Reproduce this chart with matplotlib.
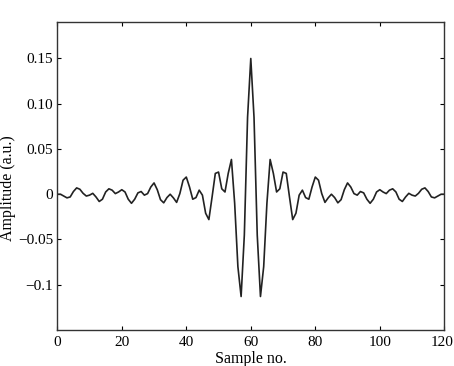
import matplotlib
matplotlib.use('Agg')
import matplotlib.pyplot as plt
import matplotlib.transforms as mtransforms
import numpy as np

# Амплитуда по номерам отсчётов
samples = np.arange(0, 121)
amp_left = [0.0, 0.0, -0.002, -0.004, -0.003, 0.003, 0.007, 0.0055, 0.001, -0.002,
            -0.001, 0.001, -0.003, -0.008, -0.0055, 0.0025, 0.006, 0.0045, 0.0007, 0.0025,
            0.005, 0.0025, -0.0055, -0.010, -0.0055, 0.0015, 0.003, -0.001, 0.0007, 0.008,
            0.0125, 0.005, -0.006, -0.0095, -0.0037, 0.0, -0.004, -0.009, 0.0007, 0.0155,
            0.019, 0.008, -0.0055, -0.0037, 0.0045, -0.001, -0.021, -0.028, -0.003, 0.023,
            0.0245, 0.006, 0.0025, 0.023, 0.0384, -0.010, -0.080, -0.113, -0.045, 0.085]
amp_center = [0.150]
amp_right = [0.085, -0.045, -0.113, -0.080, -0.010, 0.0384, 0.023, 0.0025, 0.006, 0.0245,
             0.023, -0.003, -0.028, -0.021, -0.001, 0.0045, -0.0037, -0.0055, 0.008, 0.019,
             0.0155, 0.0007, -0.009, -0.004, 0.0, -0.0037, -0.0095, -0.006, 0.005, 0.0125,
             0.008, 0.0007, -0.001, 0.003, 0.0015, -0.0055, -0.010, -0.0055, 0.0025, 0.005,
             0.0025, 0.0007, 0.0045, 0.006, 0.0025, -0.0055, -0.008, -0.003, 0.001, -0.001,
             -0.002, 0.001, 0.0055, 0.007, 0.003, -0.003, -0.004, -0.002, 0.0, 0.0]
amplitude = amp_left + amp_center + amp_right

xticks = [0, 20, 40, 60, 80, 100, 120]
yticks = [-0.1, -0.05, 0, 0.05, 0.10, 0.15]
ytick_labels = ['\u22120.1', '\u22120.05', '0', '0.05', '0.10', '0.15']

plt.rcParams['font.family'] = ['Liberation Serif', 'DejaVu Serif']
plt.rcParams['font.size'] = 11

fig = plt.figure(figsize=(4.54, 3.66), dpi=100)
ax = fig.add_axes([0.1262, 0.0984, 0.8524, 0.8407])
ax.plot(samples, amplitude, color='#222222', linewidth=1.2)

ax.set_xlim(0, 120)
ax.set_ylim(-0.15, 0.19)
ax.set_xticks(xticks)
ax.set_yticks(yticks)
ax.set_yticklabels(ytick_labels)
ax.tick_params(direction='in', length=3, width=0.8, top=True, right=True, pad=3)
ax.tick_params(axis='x', pad=4)
for s in ax.spines.values():
    s.set_linewidth(1.0)
    s.set_color('#333333')

# последняя подпись чуть левее, чтобы не обрезалась
last = ax.get_xticklabels()[-1]
last.set_transform(last.get_transform() + mtransforms.ScaledTranslation(-0.025, 0, fig.dpi_scale_trans))

ax.set_xlabel('Sample no.', fontsize=11.5, labelpad=2)
ax.set_ylabel('Amplitude (a.u.)', fontsize=11.5, va='center')
ax.yaxis.set_label_coords(-0.127, 0.46)

fig.savefig('out.png', dpi=100)
